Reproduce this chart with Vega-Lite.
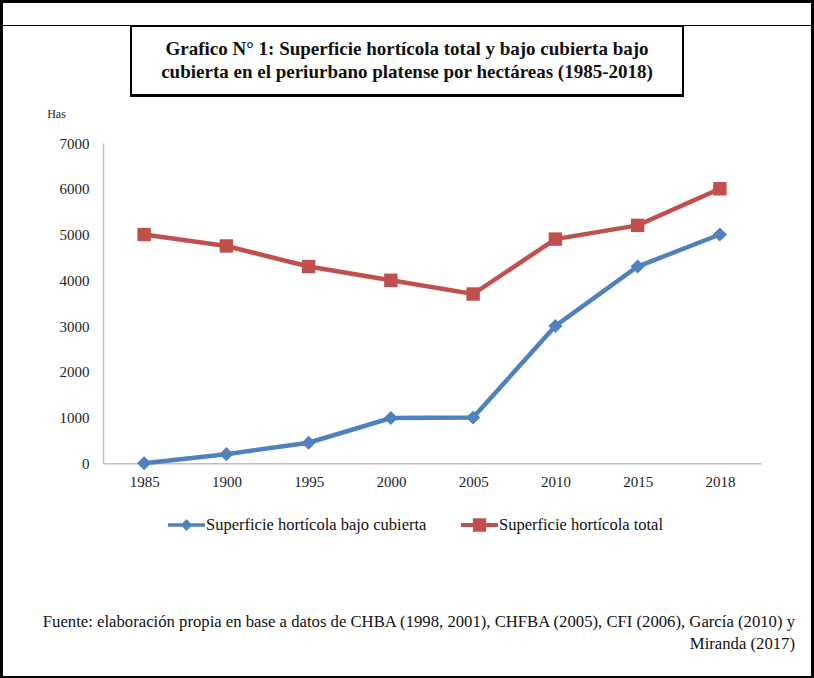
{
  "$schema": "https://vega.github.io/schema/vega-lite/v6.json",
  "autosize": "pad",
  "padding": 3,
  "background": "#000",
  "spacing": 0,
  "vconcat": [
    {
      "width": 808,
      "height": 22,
      "view": {"fill": "white", "stroke": null},
      "data": {"values": [{}]},
      "mark": {"type": "text"},
      "encoding": {"text": {"value": ""}}
    },
    {
      "spacing": 0,
      "hconcat": [
        {
          "width": 127,
          "height": 71,
          "view": {"fill": "white", "stroke": null},
          "data": {"values": [{}]},
          "mark": {"type": "text"},
          "encoding": {"text": {"value": ""}}
        },
        {
          "width": 552,
          "height": 69,
          "view": {"fill": "white", "stroke": "#000", "strokeWidth": 2},
          "data": {"values": [
            {"line": 1, "text": "Grafico N° 1: Superficie hortícola total y bajo cubierta bajo"},
            {"line": 2, "text": "cubierta en el periurbano platense por hectáreas (1985-2018)"}
          ]},
          "mark": {"type": "text", "fontSize": 19, "fontWeight": "bold", "color": "#111", "baseline": "middle"},
          "encoding": {
            "y": {"field": "line", "type": "ordinal", "scale": {"type": "point", "padding": 0.94}, "axis": null},
            "text": {"field": "text", "type": "nominal"}
          }
        },
        {
          "width": 127,
          "height": 71,
          "view": {"fill": "white", "stroke": null},
          "data": {"values": [{}]},
          "mark": {"type": "text"},
          "encoding": {"text": {"value": ""}}
        }
      ]
    },
    {
      "width": 808,
      "height": 579,
      "view": {"fill": "white", "stroke": null},
      "title": {
        "text": ["Fuente: elaboración propia en base a datos de CHBA (1998, 2001), CHFBA (2005), CFI (2006), García (2010) y", "Miranda (2017)"],
        "orient": "bottom",
        "anchor": "end",
        "frame": "group",
        "offset": -62,
        "dx": -16,
        "fontSize": 16.7,
        "fontWeight": "normal",
        "lineHeight": 22,
        "color": "#111"
      },
      "data": {"values": [
        {"year": "1985", "serie": "Superficie hortícola bajo cubierta", "ha": 0},
        {"year": "1900", "serie": "Superficie hortícola bajo cubierta", "ha": 200},
        {"year": "1995", "serie": "Superficie hortícola bajo cubierta", "ha": 450},
        {"year": "2000", "serie": "Superficie hortícola bajo cubierta", "ha": 990},
        {"year": "2005", "serie": "Superficie hortícola bajo cubierta", "ha": 1000},
        {"year": "2010", "serie": "Superficie hortícola bajo cubierta", "ha": 3000},
        {"year": "2015", "serie": "Superficie hortícola bajo cubierta", "ha": 4300},
        {"year": "2018", "serie": "Superficie hortícola bajo cubierta", "ha": 5000},
        {"year": "1985", "serie": "Superficie hortícola total", "ha": 5000},
        {"year": "1900", "serie": "Superficie hortícola total", "ha": 4750},
        {"year": "1995", "serie": "Superficie hortícola total", "ha": 4300},
        {"year": "2000", "serie": "Superficie hortícola total", "ha": 4000},
        {"year": "2005", "serie": "Superficie hortícola total", "ha": 3700},
        {"year": "2010", "serie": "Superficie hortícola total", "ha": 4900},
        {"year": "2015", "serie": "Superficie hortícola total", "ha": 5200},
        {"year": "2018", "serie": "Superficie hortícola total", "ha": 6000}
      ]},
      "encoding": {
        "x": {
          "field": "year",
          "type": "nominal",
          "sort": ["1985", "1900", "1995", "2000", "2005", "2010", "2015", "2018"],
          "scale": {"type": "point", "range": [100, 758], "padding": 0.5},
          "axis": {
            "title": null,
            "labelAngle": 0,
            "offset": -212.7,
            "ticks": false,
            "tickSize": 0,
            "labelPadding": 11,
            "domainColor": "#BFBFBF",
            "domainWidth": 1.5,
            "grid": false
          }
        },
        "y": {
          "field": "ha",
          "type": "quantitative",
          "scale": {"domain": [0, 7000], "range": [366.3, 46], "nice": false, "zero": true},
          "axis": {
            "values": [0, 1000, 2000, 3000, 4000, 5000, 6000, 7000],
            "format": "d",
            "offset": -100,
            "ticks": false,
            "tickSize": 0,
            "labelPadding": 14,
            "domainColor": "#BFBFBF",
            "domainWidth": 1.5,
            "grid": false,
            "title": "Has",
            "titleAngle": 0,
            "titleX": -47,
            "titleY": 16,
            "titleAlign": "center",
            "titleBaseline": "middle",
            "titleFontWeight": "normal",
            "titleFontSize": 12,
            "titleColor": "#222"
          }
        },
        "color": {
          "field": "serie",
          "type": "nominal",
          "scale": {"domain": ["Superficie hortícola bajo cubierta", "Superficie hortícola total"], "range": ["#4F81BD", "#C0504D"]},
          "legend": {
            "title": null,
            "orient": "none",
            "direction": "horizontal",
            "columns": 2,
            "legendX": 165,
            "legendY": 503.5,
            "symbolSize": 1369,
            "symbolStrokeWidth": 0,
            "labelOffset": 1,
            "columnPadding": 34,
            "labelFontSize": 16.5,
            "labelColor": "#111",
            "labelLimit": 400,
            "encode": {
              "symbols": {
                "update": {
                  "shape": {"signal": "datum.value === 'Superficie hortícola total' ? 'M-1,-0.11L-0.36,-0.11L-0.36,-0.36L0.36,-0.36L0.36,-0.11L1,-0.11L1,0.11L0.36,0.11L0.36,0.36L-0.36,0.36L-0.36,0.11L-1,0.11Z' : 'M-1,-0.1L-0.22,-0.1L0,-0.32L0.22,-0.1L1,-0.1L1,0.1L0.22,0.1L0,0.32L-0.22,0.1L-1,0.1Z'"},
                  "fill": {"scale": "color", "field": "value"},
                  "strokeWidth": {"value": 0}
                }
              }
            }
          }
        }
      },
      "layer": [
        {"mark": {"type": "line", "strokeWidth": 4.5}},
        {
          "transform": [{"filter": "datum.serie === 'Superficie hortícola bajo cubierta'"}],
          "mark": {"type": "point", "filled": true, "opacity": 1, "size": 200, "shape": "diamond"}
        },
        {
          "transform": [{"filter": "datum.serie === 'Superficie hortícola total'"}],
          "mark": {"type": "point", "filled": true, "opacity": 1, "size": 180, "shape": "square"}
        }
      ]
    }
  ],
  "config": {
    "font": "Liberation Serif",
    "view": {"stroke": null},
    "axis": {"labelFontSize": 15, "labelColor": "#222", "labelFont": "Liberation Serif"},
    "title": {"font": "Liberation Serif"}
  }
}
